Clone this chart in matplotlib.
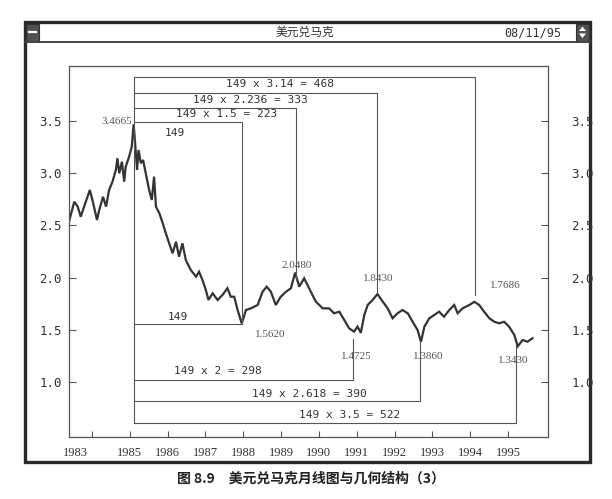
import matplotlib
matplotlib.use('Agg')
import matplotlib.pyplot as plt
from matplotlib import font_manager as fm
from matplotlib.patches import Rectangle, Polygon

# ---------------- data ----------------
years = [1983.38, 1983.53, 1983.62, 1983.70, 1983.79, 1983.94, 1984.01, 1984.13, 1984.19, 1984.29,
         1984.37, 1984.45, 1984.54, 1984.63, 1984.67, 1984.72, 1984.79, 1984.85, 1984.89, 1984.98,
         1985.05, 1985.10, 1985.14, 1985.19, 1985.23, 1985.29, 1985.35, 1985.42, 1985.51, 1985.58,
         1985.64, 1985.69, 1985.78, 1985.87, 1985.95, 1986.04, 1986.13, 1986.22, 1986.30, 1986.39,
         1986.48, 1986.61, 1986.75, 1986.83, 1986.92, 1987.01, 1987.08, 1987.19, 1987.32, 1987.45,
         1987.58, 1987.67, 1987.76, 1987.85, 1987.96, 1988.07, 1988.20, 1988.38, 1988.51, 1988.62,
         1988.73, 1988.86, 1988.99, 1989.13, 1989.26, 1989.37, 1989.48, 1989.61, 1989.74, 1989.92,
         1990.10, 1990.27, 1990.40, 1990.54, 1990.67, 1990.80, 1990.93, 1991.02, 1991.11, 1991.20,
         1991.29, 1991.42, 1991.55, 1991.69, 1991.82, 1991.95, 1992.08, 1992.21, 1992.35, 1992.48,
         1992.61, 1992.70, 1992.79, 1992.92, 1993.05, 1993.18, 1993.31, 1993.45, 1993.58, 1993.67,
         1993.80, 1993.98, 1994.11, 1994.24, 1994.37, 1994.51, 1994.64, 1994.77, 1994.90, 1995.03,
         1995.17, 1995.26, 1995.39, 1995.52, 1995.65]
prices = [2.52, 2.726, 2.678, 2.582, 2.678, 2.837, 2.742, 2.551, 2.646, 2.773,
          2.678, 2.837, 2.917, 3.029, 3.141, 2.997, 3.108, 2.917, 3.06, 3.156,
          3.251, 3.4665, 3.284, 3.029, 3.22, 3.093, 3.124, 2.997, 2.837, 2.742,
          2.965, 2.678, 2.615, 2.519, 2.424, 2.328, 2.232, 2.343, 2.20, 2.328,
          2.168, 2.073, 2.009, 2.056, 1.977, 1.881, 1.786, 1.85, 1.786, 1.834,
          1.898, 1.817, 1.817, 1.69, 1.562, 1.69, 1.706, 1.738, 1.865, 1.913,
          1.865, 1.738, 1.817, 1.865, 1.898, 2.048, 1.913, 1.993, 1.898, 1.77,
          1.706, 1.706, 1.659, 1.674, 1.595, 1.515, 1.483, 1.531, 1.4725, 1.642,
          1.738, 1.786, 1.843, 1.77, 1.706, 1.611, 1.659, 1.69, 1.659, 1.578,
          1.499, 1.386, 1.531, 1.611, 1.642, 1.674, 1.626, 1.69, 1.738, 1.659,
          1.706, 1.738, 1.7686, 1.738, 1.674, 1.611, 1.578, 1.563, 1.578, 1.531,
          1.451, 1.343, 1.403, 1.387, 1.42]

peak_year = 1985.10

top_labels = ['149 x 3.14 = 468', '149 x 2.236 = 333', '149 x 1.5 = 223']
top_end_years = [1994.13, 1991.53, 1989.39]
top_levels = [3.915, 3.762, 3.624]
top_end_prices = [1.834, 1.853, 1.977]
top_label_x = [1988.97, 1988.20, 1987.57]
top_label_y = [3.851, 3.698, 3.564]

bottom_labels = ['149 x 2 = 298', '149 x 2.618 = 390', '149 x 3.5 = 522']
bottom_end_years = [1990.91, 1992.67, 1995.21]
bottom_levels = [1.021, 0.820, 0.607]
bottom_start_prices = [1.41, 1.403, 1.355]
bottom_label_x = [1987.33, 1989.76, 1990.82]
bottom_label_y = [1.107, 0.884, 0.686]

box_end_year = 1987.96
box_top = 3.49
box_bottom = 1.553
box_labels = ['149', '149']
box_label_x = [1986.19, 1986.27]
box_label_y = [3.382, 1.626]

extreme_labels = ['3.4665', '2.0480', '1.8430', '1.7686', '1.5620', '1.4725', '1.3860', '1.3430']
extreme_x = [1984.65, 1989.41, 1991.56, 1994.92, 1988.70, 1991.00, 1992.88, 1995.13]
extreme_y = [3.49, 2.114, 1.987, 1.929, 1.458, 1.244, 1.244, 1.206]

ytick_values = [1.0, 1.5, 2.0, 2.5, 3.0, 3.5]
ytick_labels = ['1.0', '1.5', '2.0', '2.5', '3.0', '3.5']
xtick_years = [1984, 1985, 1986, 1987, 1988, 1989, 1990, 1991, 1992, 1993, 1994, 1995]
xtick_labels = ['', '1985', '1986', '1987', '1988', '1989', '1990', '1991', '1992', '1993', '1994', '1995']
first_year_label = '1983'
first_year_pos = 1983.55

window_title = '美元兑马克'
window_date = '08/11/95'
caption = '图 8.9　美元兑马克月线图与几何结构（3）'

# ---------------- fonts ----------------
names = {f.name for f in fm.fontManager.ttflist}
narrow = 'Liberation Sans Narrow' if 'Liberation Sans Narrow' in names else 'DejaVu Sans Mono'
serif = 'Liberation Serif' if 'Liberation Serif' in names else 'DejaVu Serif'
cjk = ['Noto Sans CJK SC', 'DejaVu Sans']

INK = '#333333'
LINE = '#555555'

fig = plt.figure(figsize=(6.12, 4.99), dpi=100)
fig.patch.set_facecolor('white')

# background axes in pixel coordinates
bg = fig.add_axes([0, 0, 1, 1])
bg.set_xlim(0, 612)
bg.set_ylim(499, 0)
bg.axis('off')

# window frame
bg.add_patch(Rectangle((25, 22), 565, 440, fill=False, edgecolor='#2a2a2a', lw=2.4))
bg.plot([25, 590], [42, 42], color='#444444', lw=1.4)
# left system button
bg.add_patch(Rectangle((26, 23.5), 13, 17.5, facecolor='#505050', edgecolor='#303030', lw=0.8))
bg.plot([29, 36], [32, 32], color='white', lw=1.6)
# right scroll button
bg.add_patch(Rectangle((576, 23.5), 13, 17.5, facecolor='#505050', edgecolor='#303030', lw=0.8))
bg.add_patch(Polygon([[579, 31], [586, 31], [582.5, 26.5]], closed=True, facecolor='white', edgecolor='none'))
bg.add_patch(Polygon([[579, 33.5], [586, 33.5], [582.5, 38]], closed=True, facecolor='white', edgecolor='none'))

bg.text(305, 32.5, window_title, ha='center', va='center', fontsize=8.5, color=INK, family=cjk)
bg.text(533, 33, window_date, ha='center', va='center', fontsize=8.5, color=INK, family=narrow)
bg.text(311, 479, caption, ha='center', va='center', fontsize=10, color='#222222',
        family=cjk, fontweight='bold')

# main plotting axes
ax = fig.add_axes([69 / 612, (499 - 437) / 499, 479 / 612, 371 / 499])
ax.patch.set_alpha(0)
ax.set_xlim(1983.39, 1996.06)
ax.set_ylim(0.476, 4.023)
for s in ax.spines.values():
    s.set_color(LINE)
    s.set_linewidth(0.9)

ax.plot(years, prices, color=INK, lw=1.6, solid_joinstyle='miter')

lkw = dict(color=LINE, lw=0.8)
# vertical line from peak
ax.plot([peak_year, peak_year], [top_levels[0], bottom_levels[-1]], **lkw)
# top projections
for lab, ex, lev, ep, tx, ty in zip(top_labels, top_end_years, top_levels, top_end_prices,
                                    top_label_x, top_label_y):
    ax.plot([peak_year, ex, ex], [lev, lev, ep], **lkw)
    ax.text(tx, ty, lab, ha='center', va='center', fontsize=8, color=INK, family=narrow)
# bottom projections
for lab, ex, lev, sp, tx, ty in zip(bottom_labels, bottom_end_years, bottom_levels,
                                    bottom_start_prices, bottom_label_x, bottom_label_y):
    ax.plot([peak_year, ex, ex], [lev, lev, sp], **lkw)
    ax.text(tx, ty, lab, ha='center', va='center', fontsize=8, color=INK, family=narrow)
# 149 box
ax.plot([peak_year, box_end_year, box_end_year, peak_year],
        [box_top, box_top, box_bottom, box_bottom], **lkw)
for lab, tx, ty in zip(box_labels, box_label_x, box_label_y):
    ax.text(tx, ty, lab, ha='center', va='center', fontsize=8, color=INK, family=narrow)
# extreme values
for lab, tx, ty in zip(extreme_labels, extreme_x, extreme_y):
    ax.text(tx, ty, lab, ha='center', va='center', fontsize=8, color='#555555', family=serif)

# ticks
ax.set_yticks(ytick_values, ytick_labels)
ax.set_xticks(xtick_years, xtick_labels)
ax.set_xticks([first_year_pos], [first_year_label], minor=True)
ax.tick_params(axis='x', which='minor', length=0, pad=7, labelsize=9, labelcolor=INK)
ax.tick_params(axis='x', which='major', direction='in', length=4, width=0.8, color=LINE,
               pad=7, labelsize=9, labelcolor=INK)
ax.tick_params(axis='y', direction='in', length=5, width=0.8, color=LINE,
               pad=5, labelsize=9, labelcolor=INK)
for t in ax.get_xticklabels(which='both'):
    t.set_family(serif)
for t in ax.get_yticklabels():
    t.set_family(narrow)

ax2 = ax.twinx()
ax2.set_ylim(ax.get_ylim())
ax2.set_yticks(ytick_values, ytick_labels)
ax2.tick_params(axis='y', direction='in', length=5, width=0.8, color=LINE,
                pad=17, labelsize=9, labelcolor=INK)
for t in ax2.get_yticklabels():
    t.set_family(narrow)
for s in ax2.spines.values():
    s.set_visible(False)

fig.savefig('out.png', dpi=100, facecolor='white')
